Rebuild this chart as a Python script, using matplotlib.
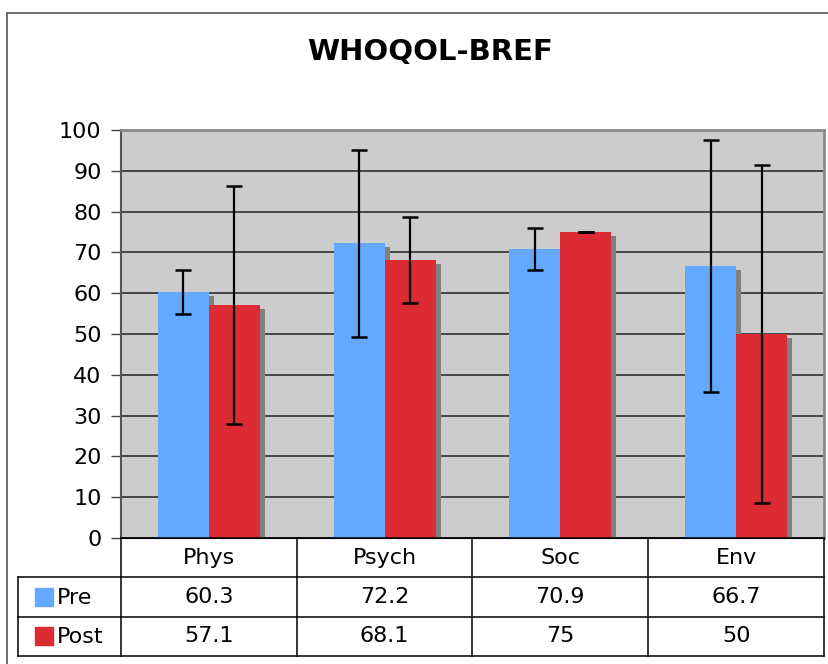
import numpy as np
import matplotlib.pyplot as plt
from matplotlib.transforms import offset_copy
from matplotlib.patches import Rectangle

# datos del grafico
categories = ['Phys', 'Psych', 'Soc', 'Env']
series = ['Pre', 'Post']
pre = [60.3, 72.2, 70.9, 66.7]
post = [57.1, 68.1, 75, 50]
pre_err = [5.5, 22.9, 5.2, 30.8]
post_err = [29.2, 10.5, 0.0, 41.3]
yticks = list(range(0, 101, 10))

pre_color = '#63A9FF'
post_color = '#DC2B32'
shadow_color = '#808080'

W, H = 829, 664
fig = plt.figure(figsize=(W / 100, H / 100), dpi=100)


def px(x0, y0, x1, y1):
    # caja en pixeles (origen arriba a la izquierda) -> coordenadas de figura
    return [x0 / W, 1 - y1 / H, (x1 - x0) / W, (y1 - y0) / H]


# marco exterior del grafico (cortado a la derecha y abajo)
fig.patches.append(Rectangle((7 / W, -0.1), 1.0, 1 - 13 / H + 0.1, transform=fig.transFigure,
                             fill=False, edgecolor='#555555', lw=1.2))

fig.text(430 / W, 1 - 52 / H, 'WHOQOL-BREF', ha='center', va='center',
         fontsize=21, fontweight='bold')

ax = fig.add_axes(px(121, 130, 824, 538))
ax.set_facecolor('#CCCCCC')
x = np.arange(len(categories))
w = 0.29

# sombras de las barras
shadow = offset_copy(ax.transData, fig=fig, x=5, y=-4, units='dots')
ax.bar(x - w / 2, pre, w, color=shadow_color, transform=shadow, zorder=2)
ax.bar(x + w / 2, post, w, color=shadow_color, transform=shadow, zorder=2)

ax.bar(x - w / 2, pre, w, color=pre_color, zorder=3)
ax.bar(x + w / 2, post, w, color=post_color, zorder=3)

ax.errorbar(x - w / 2, pre, yerr=pre_err, fmt='none', ecolor='black',
            elinewidth=1.6, capsize=5.5, capthick=1.8, zorder=4)
ax.errorbar(x + w / 2, post, yerr=post_err, fmt='none', ecolor='black',
            elinewidth=1.6, capsize=5.5, capthick=1.8, zorder=4)

ax.set_xlim(-0.5, 3.5)
ax.set_ylim(0, 100)
ax.set_yticks(yticks)
ax.set_xticks([])
ax.yaxis.grid(True, color='#222222', lw=1.1)
ax.set_axisbelow(True)
ax.tick_params(axis='y', labelsize=16, length=7, width=1, color='#444444', pad=7)
for s in ['top', 'right']:
    ax.spines[s].set_color('#8a8a8a')
    ax.spines[s].set_linewidth(2)
ax.spines['left'].set_color('#555555')
ax.spines['left'].set_linewidth(1.5)
ax.spines['bottom'].set_color('black')

# tabla de datos bajo el grafico
tax = fig.add_axes(px(18, 538, 824, 656))
left = -0.5 - (121 - 18) / 176
tax.set_xlim(left, 3.5)
tax.set_ylim(3, 0)
tax.axis('off')
lk = dict(color='black', lw=1.1, clip_on=False)
tax.plot([-0.5, 3.5], [0, 0], **lk)
for yy in [1, 2, 3]:
    tax.plot([left, 3.5], [yy, yy], **lk)
for xx in [-0.5, 0.5, 1.5, 2.5, 3.5]:
    tax.plot([xx, xx], [0, 3], **lk)
tax.plot([left, left], [1, 3], **lk)

for i, c in enumerate(categories):
    tax.text(i, 0.5, c, ha='center', va='center', fontsize=16)
    tax.text(i, 1.5, f'{pre[i]:g}', ha='center', va='center', fontsize=16)
    tax.text(i, 2.5, f'{post[i]:g}', ha='center', va='center', fontsize=16)

key_x = (35 - 121) / 176 - 0.5
for r, (name, col) in enumerate(zip(series, [pre_color, post_color])):
    tax.add_patch(Rectangle((key_x, r + 1.27), 18 / 176, 0.46, color=col, clip_on=False))
    tax.text((57 - 121) / 176 - 0.5, r + 1.52, name, ha='left', va='center', fontsize=16)

fig.savefig('out.png', dpi=100)
